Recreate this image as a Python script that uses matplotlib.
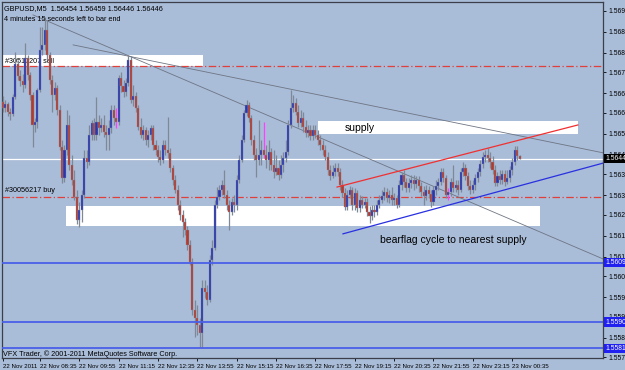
import matplotlib
matplotlib.use("Agg")
import matplotlib.pyplot as plt
import matplotlib.transforms as mtransforms
import numpy as np
from matplotlib.patches import Rectangle

# GBPUSD M5 bars, 22 Nov 2011 07:20 -> 23 Nov 00:50
opens = [
    1.56636, 1.56616, 1.56629, 1.56603, 1.56596, 1.56653, 1.56763, 1.56723, 1.56706, 1.56693,
    1.56783, 1.56726, 1.56659, 1.56559, 1.56569, 1.56676, 1.56809, 1.56826, 1.56876, 1.56793,
    1.56709, 1.56659, 1.56683, 1.56609, 1.56486, 1.56383, 1.56476, 1.56559, 1.56426, 1.56376,
    1.56319, 1.56242, 1.56276, 1.56326, 1.56449, 1.56436, 1.56526, 1.56566, 1.56526, 1.56569,
    1.56549, 1.56559, 1.56536, 1.56526, 1.56549, 1.56609, 1.56583, 1.56569, 1.56716, 1.56689,
    1.56669, 1.56699, 1.56776, 1.56643, 1.56656, 1.56616, 1.56552, 1.56526, 1.56543, 1.56509,
    1.56526, 1.56549, 1.56492, 1.56476, 1.56452, 1.56442, 1.56492, 1.56476, 1.56466, 1.56416,
    1.56376, 1.56342, 1.56292, 1.56259, 1.56236, 1.56209, 1.56159, 1.56102, 1.55942, 1.55915,
    1.55892, 1.55865, 1.56016, 1.56002, 1.55976, 1.56109, 1.56149, 1.56292, 1.56319, 1.56342,
    1.56359, 1.56326, 1.56292, 1.56269, 1.56302, 1.56292, 1.56376, 1.56442, 1.56509, 1.56599,
    1.56626, 1.56583, 1.56509, 1.56459, 1.56442, 1.56459, 1.56476, 1.56459, 1.56442, 1.56469,
    1.56426, 1.56402, 1.56416, 1.56392, 1.56426, 1.56449, 1.56469, 1.56559, 1.56616, 1.56633,
    1.56603, 1.56566, 1.56583, 1.56552, 1.56532, 1.56543, 1.56522, 1.56543, 1.56526, 1.56509,
    1.56492, 1.56476, 1.56452, 1.56409, 1.56389, 1.56402, 1.56416, 1.56402, 1.56359, 1.56332,
    1.56286, 1.56326, 1.56342, 1.56292, 1.56332, 1.56282, 1.56309, 1.56292, 1.56302, 1.56269,
    1.56256, 1.56276, 1.56269, 1.56292, 1.56309, 1.56322, 1.56336, 1.56316, 1.56326, 1.56309,
    1.56316, 1.56292, 1.56359, 1.56392, 1.56369, 1.56349, 1.56366, 1.56376, 1.56362, 1.56376,
    1.56356, 1.56336, 1.56322, 1.56342, 1.56329, 1.56302, 1.56342, 1.56356, 1.56369, 1.56402,
    1.56383, 1.56326, 1.56336, 1.56369, 1.56349, 1.56359, 1.56342, 1.56402, 1.56416, 1.56389,
    1.56356, 1.56342, 1.56359, 1.56383, 1.56402, 1.56429, 1.56452, 1.56459, 1.56449, 1.56436,
    1.56409, 1.56366, 1.56389, 1.56376, 1.56396, 1.56369, 1.56383, 1.56409, 1.56436, 1.56476,
    1.56454,
]
highs = [
    1.56656, 1.56643, 1.56636, 1.56616, 1.56663, 1.56803, 1.56776, 1.56743, 1.56729, 1.56833,
    1.56793, 1.56736, 1.56669, 1.56583, 1.56683, 1.56886, 1.56886, 1.56919, 1.56909, 1.56803,
    1.56726, 1.56703, 1.56693, 1.56626, 1.56509, 1.56492, 1.56609, 1.56593, 1.56459, 1.56409,
    1.56342, 1.56302, 1.56342, 1.56476, 1.56476, 1.56559, 1.56576, 1.56583, 1.56653, 1.56593,
    1.56583, 1.56593, 1.56559, 1.56576, 1.56626, 1.56626, 1.56616, 1.56726, 1.56736, 1.56709,
    1.56716, 1.56793, 1.56789, 1.56693, 1.56669, 1.56626, 1.56583, 1.56559, 1.56552, 1.56543,
    1.56559, 1.56559, 1.56509, 1.56492, 1.56476, 1.56509, 1.56509, 1.56586, 1.56482, 1.56426,
    1.56392, 1.56359, 1.56309, 1.56276, 1.56249, 1.56222, 1.56176, 1.56116, 1.55976, 1.55959,
    1.55915, 1.56042, 1.56042, 1.56026, 1.56126, 1.56176, 1.56309, 1.56352, 1.56359, 1.56376,
    1.56409, 1.56342, 1.56309, 1.56316, 1.56326, 1.56392, 1.56459, 1.56526, 1.56609, 1.56643,
    1.56636, 1.56593, 1.56526, 1.56482, 1.56576, 1.56509, 1.56569, 1.56492, 1.56509, 1.56482,
    1.56476, 1.56459, 1.56442, 1.56459, 1.56469, 1.56509, 1.56576, 1.56676, 1.56659, 1.56649,
    1.56626, 1.56609, 1.56603, 1.56576, 1.56559, 1.56559, 1.56559, 1.56559, 1.56543, 1.56526,
    1.56509, 1.56492, 1.56469, 1.56426, 1.56426, 1.56432, 1.56432, 1.56416, 1.56376, 1.56349,
    1.56342, 1.56356, 1.56352, 1.56349, 1.56342, 1.56326, 1.56322, 1.56316, 1.56316, 1.56289,
    1.56292, 1.56292, 1.56309, 1.56326, 1.56342, 1.56352, 1.56349, 1.56342, 1.56352, 1.56332,
    1.56326, 1.56376, 1.56402, 1.56409, 1.56383, 1.56383, 1.56392, 1.56392, 1.56389, 1.56389,
    1.56369, 1.56356, 1.56359, 1.56356, 1.56342, 1.56356, 1.56376, 1.56383, 1.56416, 1.56416,
    1.56392, 1.56349, 1.56383, 1.56426, 1.56376, 1.56376, 1.56416, 1.56436, 1.56429, 1.56402,
    1.56376, 1.56376, 1.56396, 1.56416, 1.56442, 1.56469, 1.56476, 1.56482, 1.56469, 1.56456,
    1.56426, 1.56402, 1.56409, 1.56409, 1.56409, 1.56409, 1.56422, 1.56449, 1.56489, 1.56489,
    1.56459,
]
lows = [
    1.56603, 1.56603, 1.56589, 1.56576, 1.56589, 1.56646, 1.56709, 1.56689, 1.56669, 1.56683,
    1.56709, 1.56643, 1.56486, 1.56536, 1.56549, 1.56669, 1.56793, 1.56809, 1.56776, 1.56696,
    1.56603, 1.56643, 1.56593, 1.56476, 1.56366, 1.56369, 1.56459, 1.56409, 1.56359, 1.56309,
    1.56229, 1.56219, 1.56236, 1.56316, 1.56416, 1.56426, 1.56509, 1.56509, 1.56509, 1.56526,
    1.56536, 1.56519, 1.56476, 1.56476, 1.56532, 1.56559, 1.56549, 1.56559, 1.56669, 1.56653,
    1.56656, 1.56689, 1.56633, 1.56622, 1.56603, 1.56543, 1.56516, 1.56509, 1.56492, 1.56486,
    1.56509, 1.56476, 1.56459, 1.56436, 1.56426, 1.56432, 1.56459, 1.56449, 1.56402, 1.56359,
    1.56332, 1.56276, 1.56242, 1.56186, 1.56192, 1.56142, 1.56092, 1.55926, 1.55852, 1.55859,
    1.55819, 1.55815, 1.55982, 1.55959, 1.55969, 1.56092, 1.56142, 1.56282, 1.56309, 1.56326,
    1.56316, 1.56276, 1.56209, 1.56259, 1.56269, 1.56276, 1.56366, 1.56436, 1.56502, 1.56589,
    1.56569, 1.56492, 1.56442, 1.56386, 1.56426, 1.56426, 1.56449, 1.56416, 1.56409, 1.56409,
    1.56383, 1.56392, 1.56376, 1.56383, 1.56402, 1.56436, 1.56459, 1.56549, 1.56603, 1.56593,
    1.56552, 1.56552, 1.56536, 1.56519, 1.56519, 1.56509, 1.56509, 1.56516, 1.56492, 1.56476,
    1.56459, 1.56442, 1.56392, 1.56376, 1.56383, 1.56389, 1.56389, 1.56342, 1.56319, 1.56276,
    1.56276, 1.56316, 1.56276, 1.56276, 1.56269, 1.56269, 1.56282, 1.56282, 1.56256, 1.56232,
    1.56242, 1.56252, 1.56259, 1.56282, 1.56299, 1.56309, 1.56302, 1.56299, 1.56292, 1.56292,
    1.56282, 1.56286, 1.56342, 1.56352, 1.56336, 1.56336, 1.56349, 1.56342, 1.56349, 1.56336,
    1.56322, 1.56292, 1.56309, 1.56316, 1.56286, 1.56292, 1.56326, 1.56342, 1.56359, 1.56369,
    1.56316, 1.56309, 1.56322, 1.56336, 1.56336, 1.56326, 1.56336, 1.56389, 1.56376, 1.56342,
    1.56329, 1.56332, 1.56342, 1.56369, 1.56389, 1.56416, 1.56436, 1.56436, 1.56416, 1.56396,
    1.56356, 1.56356, 1.56362, 1.56362, 1.56356, 1.56362, 1.56369, 1.56392, 1.56426, 1.56442,
    1.56446,
]
closes = [
    1.56616, 1.56629, 1.56603, 1.56596, 1.56653, 1.56763, 1.56723, 1.56706, 1.56693, 1.56783,
    1.56726, 1.56659, 1.56559, 1.56569, 1.56676, 1.56809, 1.56826, 1.56876, 1.56793, 1.56709,
    1.56659, 1.56683, 1.56609, 1.56486, 1.56383, 1.56476, 1.56559, 1.56426, 1.56376, 1.56319,
    1.56242, 1.56276, 1.56326, 1.56449, 1.56436, 1.56526, 1.56566, 1.56526, 1.56569, 1.56549,
    1.56559, 1.56536, 1.56526, 1.56549, 1.56609, 1.56583, 1.56569, 1.56716, 1.56689, 1.56669,
    1.56699, 1.56776, 1.56643, 1.56656, 1.56616, 1.56552, 1.56526, 1.56543, 1.56509, 1.56526,
    1.56549, 1.56492, 1.56476, 1.56452, 1.56442, 1.56492, 1.56476, 1.56466, 1.56416, 1.56376,
    1.56342, 1.56292, 1.56259, 1.56236, 1.56209, 1.56159, 1.56102, 1.55942, 1.55915, 1.55892,
    1.55865, 1.56016, 1.56002, 1.55976, 1.56109, 1.56149, 1.56292, 1.56319, 1.56342, 1.56359,
    1.56326, 1.56292, 1.56269, 1.56302, 1.56292, 1.56376, 1.56442, 1.56509, 1.56599, 1.56626,
    1.56583, 1.56509, 1.56459, 1.56442, 1.56459, 1.56476, 1.56459, 1.56442, 1.56469, 1.56426,
    1.56402, 1.56416, 1.56392, 1.56426, 1.56449, 1.56469, 1.56559, 1.56616, 1.56633, 1.56603,
    1.56566, 1.56583, 1.56552, 1.56532, 1.56543, 1.56522, 1.56543, 1.56526, 1.56509, 1.56492,
    1.56476, 1.56452, 1.56409, 1.56389, 1.56402, 1.56416, 1.56402, 1.56359, 1.56332, 1.56286,
    1.56326, 1.56342, 1.56292, 1.56332, 1.56282, 1.56309, 1.56292, 1.56302, 1.56269, 1.56256,
    1.56276, 1.56269, 1.56292, 1.56309, 1.56322, 1.56336, 1.56316, 1.56326, 1.56309, 1.56316,
    1.56292, 1.56359, 1.56392, 1.56369, 1.56349, 1.56366, 1.56376, 1.56362, 1.56376, 1.56356,
    1.56336, 1.56322, 1.56342, 1.56329, 1.56302, 1.56342, 1.56356, 1.56369, 1.56402, 1.56383,
    1.56326, 1.56336, 1.56369, 1.56349, 1.56359, 1.56342, 1.56402, 1.56416, 1.56389, 1.56356,
    1.56342, 1.56359, 1.56383, 1.56402, 1.56429, 1.56452, 1.56459, 1.56449, 1.56436, 1.56409,
    1.56366, 1.56389, 1.56376, 1.56396, 1.56369, 1.56383, 1.56409, 1.56436, 1.56476, 1.56454,
    1.56446,
]
magenta_bars = [46, 106, 181]

time_tick_bars = [0, 15, 31, 47, 63, 79, 95, 111, 127, 143, 159, 175, 191, 207]
time_labels = ["22 Nov 2011", "22 Nov 08:35", "22 Nov 09:55", "22 Nov 11:15", "22 Nov 12:35",
               "22 Nov 13:55", "22 Nov 15:15", "22 Nov 16:35", "22 Nov 17:55", "22 Nov 19:15",
               "22 Nov 20:35", "22 Nov 21:55", "22 Nov 23:15", "23 Nov 00:35"]
price_ticks = [1.56940, 1.56870, 1.56800, 1.56735, 1.56665, 1.56600, 1.56530, 1.56460, 1.56395,
               1.56325, 1.56260, 1.56190, 1.56120, 1.56055, 1.55985, 1.55920, 1.55850, 1.55785]

# chart objects (bar index, price)
sell_level = 1.56756
buy_level = 1.56318
bid_level = 1.56446
blue_levels = [1.56099, 1.55902, 1.55815]
zones = [(-5, 81.3, 1.56757, 1.56793), (128.0, 233.7, 1.56529, 1.56572), (25.6, 218.3, 1.56222, 1.56289)]
gray_lines = [((12.2, 1.56926), (244.0, 1.56112)), ((28.5, 1.56826), (244.0, 1.56466))]
red_channel = ((135.8, 1.56352), (233.7, 1.56559))
blue_channel = ((138.2, 1.56196), (244.0, 1.56432))

bg = "#A9BCD8"
bull = "#2B36AE"
bear = "#B23B2F"
wick = "#7F8896"

o = np.array(opens)
h = np.array(highs)
l = np.array(lows)
c = np.array(closes)
x = np.arange(len(c))

fig = plt.figure(figsize=(6.25, 3.7), dpi=100)
fig.patch.set_facecolor(bg)
ax = fig.add_axes([2 / 625, 12 / 370, 601 / 625, 356 / 370])
ax.set_facecolor(bg)
ax.set_xlim(-0.4, 243.9)
ax.set_ylim(1.55782, 1.56969)

for x0, x1, y0, y1 in zones:
    ax.add_patch(Rectangle((x0, y0), x1 - x0, y1 - y0, facecolor="white", edgecolor="none", zorder=1))

ax.axhline(sell_level, color="#E0403C", lw=0.9, ls=(0, (6, 2, 1, 2)), zorder=2)
ax.axhline(buy_level, color="#E0403C", lw=0.9, ls=(0, (6, 2, 1, 2)), zorder=2)
ax.axhline(bid_level, color="white", lw=0.9, zorder=2)
for lv in blue_levels:
    ax.axhline(lv, color="#4A5FE8", lw=1.3, zorder=4)

for (xa, ya), (xb, yb) in gray_lines:
    ax.plot([xa, xb], [ya, yb], color="#6E7583", lw=0.6, zorder=2)
ax.plot(*zip(*red_channel), color="#F03030", lw=0.9, zorder=5)
ax.plot(*zip(*blue_channel), color="#2830E0", lw=0.9, zorder=5)

wick_colors = [("#FF40FF" if i in magenta_bars else wick) for i in x]
ax.vlines(x, l, h, colors=wick_colors, lw=0.9, zorder=3)
up = c >= o
ax.bar(x, np.abs(c - o), bottom=np.minimum(o, c), width=0.85,
       color=np.where(up, bull, bear), edgecolor="#8A93A3", linewidth=0.25, zorder=3)

small = dict(family="Liberation Sans", fontsize=5.2, color="black")
ax.text(0.004, 0.982, "GBPUSD,M5  1.56454 1.56459 1.56446 1.56446", transform=ax.transAxes, va="center", **small)
ax.text(0.004, 0.952, "4 minutes 15 seconds left to bar end", transform=ax.transAxes, va="center", **small)
ax.text(1.0, 1.56770, "#30510207 sell", va="center", zorder=2, **small)
ax.text(1.0, 1.56340, "#30056217 buy", va="center", zorder=2, **small)
ax.text(0.002, 0.012, "VFX Trader, \u00a9 2001-2011 MetaQuotes Software Corp.", transform=ax.transAxes,
        va="center", **small)
ax.text(139, 1.56549, "supply", family="Liberation Sans", fontsize=7.5, va="center", zorder=6)
ax.text(153.3, 1.56176, "bearflag cycle to nearest supply", family="Liberation Sans", fontsize=7.5,
        va="center", zorder=6)

ax.yaxis.tick_right()
ax.set_yticks(price_ticks)
ax.set_yticklabels([f"{p:.5f}" for p in price_ticks], family="Liberation Sans", fontsize=4.9)
ax.set_xticks(time_tick_bars)
ax.set_xticklabels(time_labels, family="Liberation Sans", fontsize=4.4, ha="left")
ax.tick_params(axis="both", length=2.5, width=0.6, pad=1.5, colors="black")
for s in ax.spines.values():
    s.set_color("#3A3F4A")
    s.set_linewidth(0.9)

trans = mtransforms.blended_transform_factory(ax.transAxes, ax.transData)
ax.text(1.004, bid_level, "1.56446", transform=trans, va="center", ha="left", family="Liberation Sans",
        fontsize=4.9, color="white", bbox=dict(boxstyle="square,pad=0.15", fc="black", ec="none"))
for lv in blue_levels:
    ax.text(1.004, lv, f"{lv:.5f}", transform=trans, va="center", ha="left", family="Liberation Sans",
            fontsize=4.9, color="white", bbox=dict(boxstyle="square,pad=0.15", fc="#2020F0", ec="none"))

fig.savefig("out.png", dpi=100, facecolor=bg)
